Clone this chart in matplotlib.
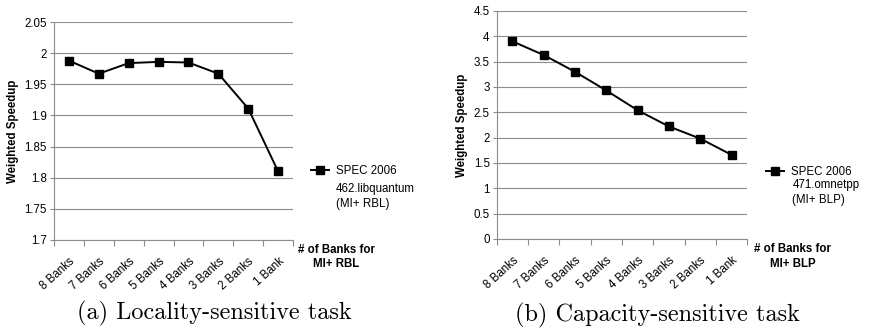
import matplotlib
import numpy as np

matplotlib.use("Agg")
import matplotlib.pyplot as plt  # noqa: E402

plt.rcParams["font.family"] = ["Liberation Sans", "DejaVu Sans"]

# Data
banks = ["8 Banks", "7 Banks", "6 Banks", "5 Banks", "4 Banks", "3 Banks", "2 Banks", "1 Bank"]
libquantum = [1.988, 1.967, 1.984, 1.986, 1.985, 1.967, 1.911, 1.810]
omnetpp = [3.90, 3.63, 3.30, 2.93, 2.54, 2.22, 1.98, 1.66]

left_yticks = [1.7, 1.75, 1.8, 1.85, 1.9, 1.95, 2.0, 2.05]
left_ylabels = ["1.7", "1.75", "1.8", "1.85", "1.9", "1.95", "2", "2.05"]
right_yticks = [0, 0.5, 1, 1.5, 2, 2.5, 3, 3.5, 4, 4.5]
right_ylabels = ["0", "0.5", "1", "1.5", "2", "2.5", "3", "3.5", "4", "4.5"]

GRID = "#8c8c8c"
FS = 8.3


def style_panel(ax, values, yticks, ylabels, bench, xlab, caption,
                leg_y, bench_y, cap_x):
    x = np.arange(len(banks))
    ax.plot(x, values, color="black", lw=1.4, marker="s", ms=6.2, label="SPEC 2006")
    ax.set_xlim(-0.5, len(banks) - 0.5)
    ax.set_ylim(yticks[0], yticks[-1])
    ax.set_yticks(yticks)
    ax.set_yticklabels(ylabels, fontsize=FS)
    ax.set_xticks(x)
    ax.set_xticklabels(banks, fontsize=FS, rotation=42, ha="right", rotation_mode="anchor")
    ax.set_xticks(np.arange(len(banks) + 1) - 0.5, minor=True)
    ax.tick_params(axis="x", which="major", length=0, pad=11)
    ax.tick_params(axis="x", which="minor", length=4, color=GRID, width=0.8)
    ax.tick_params(axis="y", length=3, color=GRID, width=0.8, pad=2)
    ax.grid(axis="y", color=GRID, lw=0.8)
    ax.set_axisbelow(True)
    for side in ["top", "right"]:
        ax.spines[side].set_visible(False)
    for side in ["left", "bottom"]:
        ax.spines[side].set_color(GRID)
        ax.spines[side].set_linewidth(0.8)
    ax.set_ylabel("Weighted Speedup", fontsize=FS, fontweight="bold", labelpad=4)
    ax.legend(loc="center left", bbox_to_anchor=(1.075, leg_y), frameon=False,
              fontsize=FS, handlelength=1.6, handletextpad=0.6,
              borderpad=0, borderaxespad=0)
    ax.text(1.18, bench_y, bench, transform=ax.transAxes, fontsize=FS,
            ha="left", va="center", linespacing=1.3)
    ax.text(1.18, -0.077, xlab, transform=ax.transAxes, fontsize=FS,
            fontweight="bold", ha="center", va="center", linespacing=1.25)
    ax.text(cap_x, -0.335, caption, transform=ax.transAxes, fontsize=17.5,
            family="cmr10", ha="center", va="center")


fig = plt.figure(figsize=(8.76, 3.31), dpi=100)
ax1 = fig.add_axes([0.0616, 0.275, 0.273, 0.6585])
ax2 = fig.add_axes([0.567, 0.278, 0.286, 0.689])

style_panel(ax1, libquantum, left_yticks, left_ylabels,
            "462.libquantum\n(MI+ RBL)", "# of Banks for\nMI+ RBL",
            "(a) Locality-sensitive task", 0.317, 0.199, 0.67)
style_panel(ax2, omnetpp, right_yticks, right_ylabels,
            "471.omnetpp\n(MI+ BLP)", "# of Banks for\nMI+ BLP",
            "(b) Capacity-sensitive task", 0.294, 0.204, 0.642)

fig.savefig("out.png", dpi=100)
